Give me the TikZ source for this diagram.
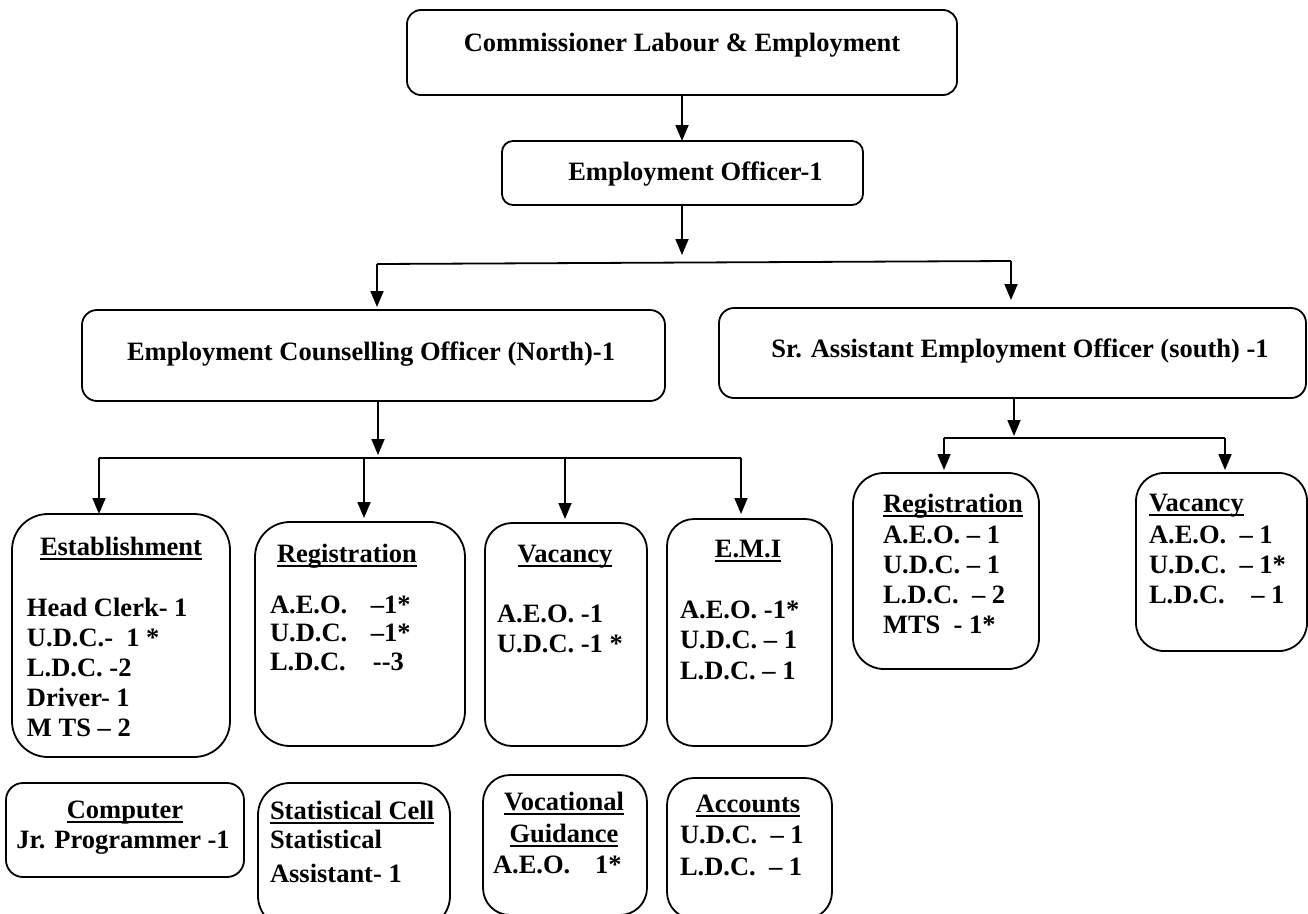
\documentclass[tikz,border=0pt]{standalone}
\usepackage{fontspec}
\setmainfont{Liberation Serif}
\usetikzlibrary{arrows.meta}

% underlined heading with a fixed rule below the baseline
\newsavebox\ulinebox
\newcommand\undl[1]{\sbox\ulinebox{#1}\rlap{\rule[-5.2pt]{\wd\ulinebox}{2.4pt}}\usebox\ulinebox}
% left-aligned lines with a fixed baseline distance; baseline = first line
\newcommand\stack[2]{\vtop{\baselineskip=#1\lineskiplimit=-100pt\lineskip=0pt\halign{##\hfil\cr#2\crcr}}}
% fixed-width label so the dashes line up
\newcommand\lb[2]{\makebox[#1][l]{#2}}

\begin{document}
\begin{tikzpicture}[x=1pt,y=-1pt,
  font=\fontsize{26.5}{30}\selectfont\bfseries,
  orgbox/.style={draw, line width=1.8pt, inner sep=0pt, outer sep=0pt},
  wire/.style={line width=1.8pt},
  arr/.style={line width=1.8pt, -{Triangle[length=16pt,width=13pt]}},
  txt/.style={inner sep=0pt, outer sep=0pt}]

\path[use as bounding box, clip] (0,0) rectangle (1308,913);

% ---------- upper levels ----------
\node[orgbox, rounded corners=14pt, minimum width=550pt, minimum height=85pt] (com) at (682,52.5) {};
\node[txt, anchor=base] (comT) at (682,51) {Commissioner Labour \& Employment};

\node[orgbox, rounded corners=11pt, minimum width=361pt, minimum height=64pt] (eo) at (682.5,173) {};
\node[txt, anchor=base] (eoT) at (695.5,180) {Employment Officer-1};

\node[orgbox, rounded corners=15pt, minimum width=583pt, minimum height=91pt] (eco) at (373.5,355.5) {};
\node[txt, anchor=base] (ecoT) at (371,360) {Employment Counselling Officer (North)-1};

\node[orgbox, rounded corners=15pt, minimum width=587pt, minimum height=90pt] (sae) at (1012.5,353) {};
\node[txt, anchor=base] (saeT) at (1020,357) {Sr. Assistant Employment Officer (south) -1};

% ---------- north section ----------
\node[orgbox, rounded corners=36pt, minimum width=218pt, minimum height=243pt] (est) at (121,635.5) {};
\node[txt, anchor=base] (estT) at (121,555) {\undl{Establishment}};
\node[txt, anchor=base west] (estB) at (27,616) {\stack{30.2pt}{Head Clerk- 1\cr U.D.C.-~ 1 *\cr L.D.C. -2\cr Driver- 1\cr M TS – 2}};

\node[orgbox, rounded corners=35pt, minimum width=210pt, minimum height=224pt] (regn) at (360,634) {};
\node[txt, anchor=base] (regnT) at (347,562) {\undl{Registration}};
\node[txt, anchor=base west] (regnB) at (270,613) {\stack{28.7pt}{\lb{101pt}{A.E.O.}–1*\cr \lb{101pt}{U.D.C.}–1*\cr \lb{103pt}{L.D.C.}-{}-3}};

\node[orgbox, rounded corners=27pt, minimum width=162pt, minimum height=223pt] (vacn) at (566,634.5) {};
\node[txt, anchor=base] (vacnT) at (565,562) {\undl{Vacancy}};
\node[txt, anchor=base west] (vacnB) at (497,622) {\stack{30pt}{A.E.O. -1\cr U.D.C. -1 *}};

\node[orgbox, rounded corners=27pt, minimum width=165pt, minimum height=227pt] (emi) at (749.5,632.5) {};
\node[txt, anchor=base] (emiT) at (748,557) {\undl{E.M.I}};
\node[txt, anchor=base west] (emiB) at (680,618) {\stack{30.5pt}{A.E.O. -1*\cr U.D.C. – 1\cr L.D.C. – 1}};

\node[orgbox, rounded corners=17pt, minimum width=238pt, minimum height=94pt] (comp) at (125,830) {};
\node[txt, anchor=base] (compT) at (125,818) {\undl{Computer}};
\node[txt, anchor=base] (compB) at (123,848) {Jr. Programmer -1};

\node[orgbox, rounded corners=32pt, minimum width=192pt, minimum height=145pt] (stat) at (354,855.5) {};
\node[txt, anchor=base west] (statT) at (270,819) {\undl{Statistical Cell}};
\node[txt, anchor=base west] (statB) at (270,848) {\stack{34pt}{Statistical\cr Assistant- 1}};

\node[orgbox, rounded corners=27pt, minimum width=164pt, minimum height=140pt] (voc) at (565,845) {};
\node[txt, anchor=base] (vocT1) at (564,810) {\undl{Vocational}};
\node[txt, anchor=base] (vocT2) at (564,842) {\undl{Guidance}};
\node[txt, anchor=base west] (vocB) at (493,873) {\lb{102pt}{A.E.O.}1*};

\node[orgbox, rounded corners=27pt, minimum width=165pt, minimum height=141pt] (acc) at (749.5,848.5) {};
\node[txt, anchor=base] (accT) at (748,812) {\undl{Accounts}};
\node[txt, anchor=base west] (accB) at (680,843) {\stack{32pt}{U.D.C.~ – 1\cr L.D.C.~ – 1}};

% ---------- south section ----------
\node[orgbox, rounded corners=31pt, minimum width=186pt, minimum height=196pt] (regs) at (946,571) {};
\node[txt, anchor=base west] (regsT) at (883,512) {\undl{Registration}};
\node[txt, anchor=base west] (regsB) at (883,543) {\stack{30pt}{A.E.O. – 1\cr U.D.C. – 1\cr L.D.C.~ – 2\cr MTS~ - 1*}};

\node[orgbox, rounded corners=28pt, minimum width=171pt, minimum height=178pt] (vacs) at (1221.5,562) {};
\node[txt, anchor=base west] (vacsT) at (1149,511) {\undl{Vacancy}};
\node[txt, anchor=base west] (vacsB) at (1149,543) {\stack{30pt}{A.E.O.~ – 1\cr U.D.C.~ – 1*\cr L.D.C.~ ~ – 1}};

% ---------- connectors ----------
\coordinate (eoTip) at (682,255);
\coordinate (busL) at (377,264);
\coordinate (busR) at (1011,261);
\coordinate (ecoTip) at (378,455);
\coordinate (nb1) at (99,458);
\coordinate (nb2) at (364,458);
\coordinate (nb3) at (565,458);
\coordinate (nb4) at (741,458);
\coordinate (saeTip) at (1014,436);
\coordinate (sb1) at (944,438);
\coordinate (sb2) at (1225,438);

\draw[arr] (com.south -| eoTip) -- (eo.north -| eoTip);
\draw[arr] (eo.south -| eoTip) -- (eoTip);

\draw[wire] (busL) -- (busR);
\draw[arr] (busL) -- ([yshift=3pt]busL |- eco.north);
\draw[arr] (busR) -- ([yshift=8pt]busR |- sae.north);

\draw[arr] (eco.south -| ecoTip) -- (ecoTip);
\draw[wire] (nb1) -- (nb4);
\draw[arr] (nb1) -- (nb1 |- est.north);
\draw[arr] (nb2) -- ([yshift=4pt]nb2 |- regn.north);
\draw[arr] (nb3) -- ([yshift=4pt]nb3 |- vacn.north);
\draw[arr] (nb4) -- ([yshift=5pt]nb4 |- emi.north);

\draw[arr] (sae.south -| saeTip) -- (saeTip);
\draw[wire] (sb1) -- (sb2);
\draw[arr] (sb1) -- ([yshift=3pt]sb1 |- regs.north);
\draw[arr] (sb2) -- ([yshift=3pt]sb2 |- vacs.north);

\end{tikzpicture}
\end{document}
